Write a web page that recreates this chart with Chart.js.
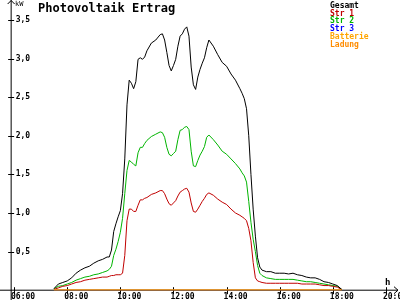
<!DOCTYPE html>
<html>
<head>
<meta charset="utf-8">
<script src="https://cdn.jsdelivr.net/npm/chart.js@4"></script>
<style>
html, body { margin: 0; padding: 0; background: #fff; }
</style>
</head>
<body>
<canvas id="chart" width="400" height="300"></canvas>
<script>
const chartTitle = 'Photovoltaik Ertrag';

const times = ['07:30','07:40','07:50','08:00','08:10','08:20','08:30','08:40','08:50','09:00','09:10','09:20','09:30',
    '09:35','09:40','09:45','09:50','09:55','10:00','10:05','10:10','10:15','10:20','10:25','10:30','10:35','10:40','10:45','10:50','10:55',
    '11:00','11:10','11:20','11:30',
    '11:35','11:40','11:45','11:50','11:55','12:00','12:05','12:10','12:15','12:20','12:25','12:30','12:35','12:40','12:45','12:50','12:55','13:00','13:05','13:10','13:15','13:20',
    '13:30','13:40','13:50','14:00','14:10','14:20','14:30',
    '14:35','14:40','14:45','14:50','14:55','15:00','15:05','15:10','15:15','15:20',
    '15:30','15:40','15:50','16:00','16:10','16:20','16:30','16:40','16:50','17:00','17:10','17:20','17:30','17:40','17:50','18:00','18:10','18:20'];

const gesamt = [0.02,0.08,0.10,0.12,0.16,0.22,0.26,0.29,0.31,0.35,0.38,0.40,0.43,
    0.43,0.52,0.76,0.86,0.95,1.03,1.25,1.70,2.40,2.72,2.68,2.61,2.70,2.99,3.01,2.99,3.02,
    3.10,3.20,3.24,3.31,
    3.32,3.24,3.08,2.91,2.84,2.91,2.99,3.16,3.29,3.32,3.38,3.41,3.29,2.89,2.66,2.60,2.76,2.86,2.94,3.01,3.14,3.24,
    3.16,3.05,2.95,2.90,2.80,2.72,2.61,
    2.55,2.48,2.35,2.00,1.50,1.05,0.70,0.42,0.30,0.26,
    0.24,0.24,0.22,0.22,0.22,0.21,0.22,0.20,0.19,0.17,0.16,0.16,0.14,0.11,0.10,0.08,0.06,0.01];

const str1 = [0.01,0.03,0.05,0.06,0.08,0.10,0.11,0.13,0.14,0.15,0.16,0.17,0.17,
    0.18,0.19,0.19,0.20,0.20,0.20,0.22,0.45,0.90,1.05,1.05,1.02,1.02,1.10,1.17,1.17,1.19,
    1.20,1.24,1.26,1.29,
    1.29,1.25,1.18,1.12,1.10,1.13,1.16,1.22,1.27,1.29,1.31,1.32,1.27,1.13,1.02,1.01,1.05,1.10,1.15,1.19,1.24,1.26,
    1.23,1.18,1.14,1.11,1.05,1.00,0.97,
    0.95,0.93,0.90,0.80,0.64,0.36,0.16,0.12,0.11,0.10,
    0.09,0.09,0.09,0.09,0.09,0.09,0.09,0.09,0.08,0.08,0.08,0.08,0.07,0.06,0.06,0.05,0.04,0.01];

const str2 = [0.02,0.05,0.06,0.08,0.10,0.13,0.15,0.17,0.18,0.20,0.21,0.23,0.25,
    0.27,0.31,0.45,0.53,0.63,0.75,0.93,1.25,1.55,1.68,1.66,1.63,1.61,1.78,1.85,1.85,1.90,
    1.94,1.99,2.02,2.05,
    2.04,1.98,1.85,1.76,1.74,1.77,1.80,1.95,2.07,2.08,2.11,2.12,2.08,1.80,1.61,1.60,1.68,1.75,1.80,1.86,1.98,2.01,
    1.95,1.88,1.80,1.76,1.70,1.64,1.57,
    1.52,1.48,1.40,1.15,0.88,0.66,0.50,0.32,0.22,0.19,
    0.16,0.15,0.14,0.14,0.14,0.14,0.14,0.13,0.12,0.11,0.11,0.10,0.09,0.08,0.07,0.06,0.05,0.01];

// these three stay at zero all day
const flatTimes = ['07:30', '18:20'];
const str3 = [0, 0];
const batterie = [0, 0];
const ladung = [0, 0];

const xTickLabels = ['06:00','08:00','10:00','12:00','14:00','16:00','18:00','20:00'];
const yTickLabels = ['0,5','1,0','1,5','2,0','2,5','3,0','3,5'];

function toHours(t) {
    let p = t.split(':');
    return parseInt(p[0], 10) + parseInt(p[1], 10) / 60;
}

function points(tt, vals) {
    return vals.map((v, i) => ({x: toHours(tt[i]), y: v}));
}

function tickValue(label) {
    return parseFloat(label.replace(',', '.'));
}

const smallFont = '"DejaVu Sans Mono"';

const framePlugin = {
    id: 'frame',
    beforeDatasetsDraw(chart) {
        const ctx = chart.ctx;
        const xs = chart.scales.x, ys = chart.scales.y;
        const ax = chart.chartArea.left + 0.5;
        const ay = ys.getPixelForValue(0);
        ctx.save();
        ctx.strokeStyle = '#000';
        ctx.lineWidth = 1;
        ctx.beginPath();
        // axes
        ctx.moveTo(ax, 0); ctx.lineTo(ax, 300);
        ctx.moveTo(0, ay); ctx.lineTo(398, ay);
        // arrow heads
        ctx.moveTo(ax - 3.5, 4); ctx.lineTo(ax, 0.5); ctx.lineTo(ax + 3.5, 4);
        ctx.moveTo(394, ay - 3.5); ctx.lineTo(398, ay); ctx.lineTo(394, ay + 3.5);
        // ticks crossing the axes
        ys.ticks.forEach(t => {
            let y = Math.round(ys.getPixelForValue(t.value)) + 0.5;
            ctx.moveTo(ax - 3, y); ctx.lineTo(ax + 3, y);
        });
        xs.ticks.forEach(t => {
            let x = Math.round(xs.getPixelForValue(t.value)) + 0.5;
            ctx.moveTo(x, ay - 3); ctx.lineTo(x, ay + 4);
        });
        ctx.stroke();
        ctx.restore();
    },
    afterDraw(chart) {
        const ctx = chart.ctx;
        ctx.save();
        ctx.textBaseline = 'alphabetic';
        ctx.textAlign = 'left';
        ctx.fillStyle = '#000';
        ctx.font = 'bold 12px ' + smallFont;
        ctx.fillText(chartTitle, 38, 12);
        ctx.font = '7px ' + smallFont;
        ctx.fillText('kW', 15, 6);
        ctx.font = 'bold 9px ' + smallFont;
        ctx.fillText('h', 385, 285);
        ctx.font = 'bold 8px ' + smallFont;
        chart.data.datasets.forEach((ds, i) => {
            ctx.fillStyle = ds.borderColor;
            ctx.fillText(ds.label, 330, 8 + i * 7.7);
        });
        ctx.restore();
    }
};

const lineStyle = {borderWidth: 1, pointRadius: 0, tension: 0, fill: false};

new Chart(document.getElementById('chart'), {
    type: 'line',
    data: {
        datasets: [
            Object.assign({label: 'Gesamt', data: points(times, gesamt), borderColor: '#000000', order: 1}, lineStyle),
            Object.assign({label: 'Str 1', data: points(times, str1), borderColor: '#c00000', order: 2}, lineStyle),
            Object.assign({label: 'Str 2', data: points(times, str2), borderColor: '#00b400', order: 3}, lineStyle),
            Object.assign({label: 'Str 3', data: points(flatTimes, str3), borderColor: '#0000ff', order: 4}, lineStyle),
            Object.assign({label: 'Batterie', data: points(flatTimes, batterie), borderColor: '#ffa500', order: 0}, lineStyle, {borderWidth: 1.5}),
            Object.assign({label: 'Ladung', data: points(flatTimes, ladung), borderColor: '#ff8c00', order: 0}, lineStyle, {borderWidth: 1.5})
        ]
    },
    options: {
        responsive: false,
        animation: false,
        devicePixelRatio: 1,
        layout: {padding: 0, autoPadding: false},
        plugins: {
            legend: {display: false},
            tooltip: {enabled: false}
        },
        scales: {
            x: {
                type: 'linear',
                min: 5.87,
                max: 20.39,
                grid: {display: false, drawTicks: false},
                border: {display: false},
                afterBuildTicks: s => { s.ticks = xTickLabels.map(l => ({value: toHours(l)})); },
                afterFit: s => { s.height = 9.5; },
                ticks: {
                    autoSkip: false,
                    maxRotation: 0,
                    padding: 2,
                    labelOffset: 9,
                    color: '#000',
                    font: {family: 'DejaVu Sans Mono', size: 8, weight: 'bold'},
                    callback: (v, i) => xTickLabels[i]
                }
            },
            y: {
                min: 0,
                max: 3.63125,
                grid: {display: false, drawTicks: false},
                border: {display: false},
                afterBuildTicks: s => { s.ticks = yTickLabels.map(l => ({value: tickValue(l)})); },
                afterFit: s => { s.width = 10; },
                ticks: {
                    mirror: true,
                    padding: 5,
                    color: '#000',
                    font: {family: 'DejaVu Sans Mono', size: 8, weight: 'bold'},
                    callback: (v, i) => yTickLabels[i]
                }
            }
        }
    },
    plugins: [framePlugin]
});
</script>
</body>
</html>
